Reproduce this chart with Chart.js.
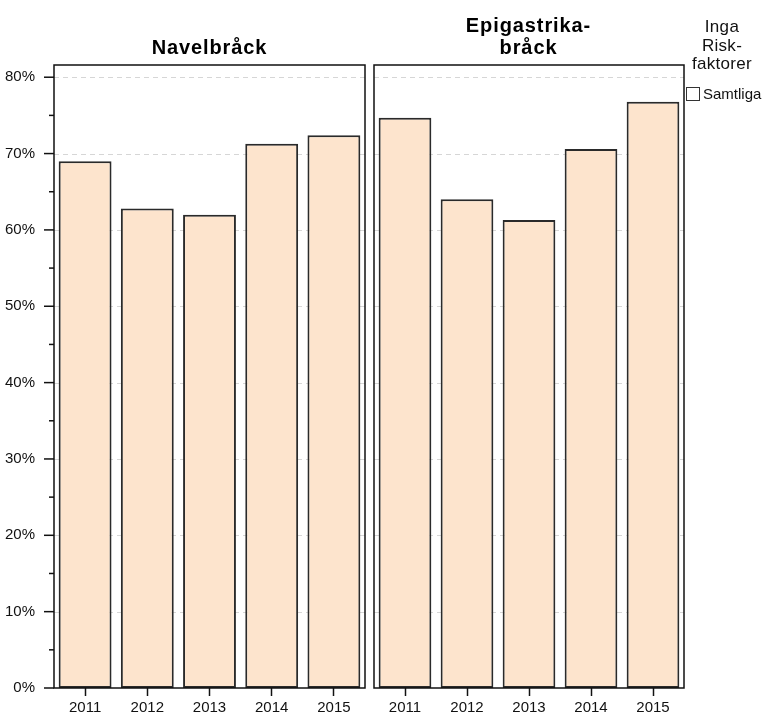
<!doctype html>
<html lang="sv">
<head>
<meta charset="UTF-8">
<title>Navelbråck / Epigastrikabråck</title>
<style>
    body { margin: 0; background: #fff; font-family: "Liberation Sans", Arial, sans-serif; }
    #wrap { position: relative; width: 765px; height: 713px; overflow: hidden; }
    canvas { position: absolute; top: 0; }
    .ptitle { position: absolute; text-align: center; font-weight: bold; font-size: 20px;
              line-height: 22px; letter-spacing: 0.9px; color: #000; }
    #legTitle { position: absolute; left: 678px; top: 18px; width: 88px; text-align: center;
                font-size: 17px; line-height: 18.7px; letter-spacing: 0.3px; color: #111; }
    #legItem { position: absolute; left: 686px; top: 85px; font-size: 15px; color: #111; }
    #legItem span.box { display: inline-block; width: 12px; height: 12px; border: 1.5px solid #333;
                        background: #fff; vertical-align: -2px; margin-right: 3px; }
</style>
</head>
<body>
<div id="wrap">
    <canvas id="left" width="370" height="713" style="left:0"></canvas>
    <canvas id="right" width="315" height="713" style="left:373px"></canvas>
    <div class="ptitle" style="left:54px; width:311px; top:36px;">Navelbråck</div>
    <div class="ptitle" style="left:373px; width:311px; top:14px;">Epigastrika-<br>bråck</div>
    <div id="legTitle">Inga<br>Risk-<br>faktorer</div>
    <div id="legItem"><span class="box"></span>Samtliga</div>
</div>
<script src="https://cdn.jsdelivr.net/npm/chart.js"></script>
<script>
    // data (percent)
    var years = ['2011', '2012', '2013', '2014', '2015'];
    var navelbrack = [69.0, 62.8, 62.0, 71.3, 72.4];
    var epigastrika = [74.7, 64.0, 61.3, 70.6, 76.8];
    var yTicks = [0, 10, 20, 30, 40, 50, 60, 70, 80];
    var yMax = 81.6;

    var barFill = '#FDE4CD';
    var barLine = '#2a2a2a';

    // dashed grid, panel frame and y tick marks
    var panelPlugin = {
        id: 'panel',
        beforeDatasetsDraw: function(chart) {
            var ctx = chart.ctx, a = chart.chartArea, y = chart.scales.y;
            ctx.save();
            ctx.strokeStyle = '#d6d6d6';
            ctx.lineWidth = 1;
            ctx.setLineDash([5, 4]);
            yTicks.forEach(function(v) {
                if (v === 0) return;
                var py = Math.round(y.getPixelForValue(v)) + 0.5;
                ctx.beginPath();
                ctx.moveTo(a.left, py);
                ctx.lineTo(a.right, py);
                ctx.stroke();
            });
            ctx.restore();
        },
        afterDraw: function(chart) {
            var ctx = chart.ctx, a = chart.chartArea, y = chart.scales.y;
            ctx.save();
            ctx.strokeStyle = '#111';
            ctx.lineWidth = 1.5;
            ctx.strokeRect(a.left, a.top, a.right - a.left, a.bottom - a.top);
            if (chart.canvas.id === 'left') {
                for (var v = 0; v <= 80; v += 5) {
                    var py = y.getPixelForValue(v);
                    var len = (v % 10 === 0) ? 10 : 5;
                    ctx.beginPath();
                    ctx.moveTo(a.left - len, py);
                    ctx.lineTo(a.left, py);
                    ctx.stroke();
                }
            }
            ctx.restore();
        }
    };

    function makeChart(id, values, showY, padLeft, padRight) {
        return new Chart(document.getElementById(id), {
            type: 'bar',
            data: {
                labels: years,
                datasets: [{
                    label: 'Samtliga',
                    data: values,
                    backgroundColor: barFill,
                    borderColor: barLine,
                    borderWidth: 2,
                    borderSkipped: false,
                    barPercentage: 0.85,
                    categoryPercentage: 1.0
                }]
            },
            options: {
                responsive: false,
                animation: false,
                layout: { padding: { top: 65, right: padRight, left: padLeft, bottom: 0 } },
                plugins: { legend: { display: false }, tooltip: { enabled: false } },
                scales: {
                    x: {
                        grid: { display: true, drawOnChartArea: false, drawTicks: true, tickLength: 8,
                                tickColor: '#111', tickWidth: 1.5, offset: false },
                        border: { display: false },
                        ticks: { color: '#111', padding: 3, font: { family: 'Liberation Sans', size: 15 } },
                        afterFit: function(s) { s.height = 25; }
                    },
                    y: {
                        display: showY,
                        min: 0,
                        max: yMax,
                        grid: { display: false },
                        border: { display: false },
                        ticks: {
                            stepSize: 10,
                            includeBounds: false,
                            padding: 11,
                            color: '#111',
                            font: { family: 'Liberation Sans', size: 15 },
                            callback: function(v) { return v + '%'; }
                        },
                        afterFit: function(s) { s.width = showY ? 54 : 0; }
                    }
                }
            },
            plugins: [panelPlugin]
        });
    }

    makeChart('left', navelbrack, true, 0, 5);
    makeChart('right', epigastrika, false, 1, 4);
</script>
</body>
</html>
